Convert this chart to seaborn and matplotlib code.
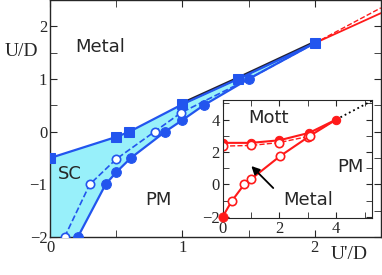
import numpy as np
import pandas as pd
import seaborn as sns
import matplotlib.pyplot as plt
from matplotlib.ticker import MultipleLocator

# main panel: SC boundaries (blue)
sq_x = [0.0, 0.5, 0.6, 1.0, 1.42, 2.0]
sq_y = [-0.5, -0.1, 0.0, 0.52, 1.0, 1.68]
fc_x = [0.21, 0.42, 0.5, 0.61, 0.87, 1.0, 1.16, 1.5, 2.0]
fc_y = [-2.0, -1.0, -0.77, -0.5, 0.0, 0.22, 0.5, 1.0, 1.68]
oc_x = [0.11, 0.30, 0.5, 0.79, 0.99, 1.5, 2.0]
oc_y = [-2.0, -1.0, -0.52, 0.0, 0.36, 1.0, 1.68]
# Mott line continued (red)
red_x = [2.0, 2.5]
red_solid = [1.68, 2.25]
red_dash = [1.68, 2.35]

# inset: Mott / Metal / PM
up_x = [0.0, 1.0, 2.0, 3.05, 4.0]
up_y = [2.56, 2.56, 2.72, 3.18, 4.0]
upo_x = [0.0, 1.0, 2.0, 3.0, 4.0]
upo_y = [2.36, 2.40, 2.58, 2.95, 4.0]
lo_x = [0.0, 0.32, 0.76, 0.99, 2.02, 3.08, 4.0]
lo_y = [-2.0, -1.03, 0.0, 0.31, 1.74, 3.0, 4.0]
dot_x = [4.0, 5.25]
dot_y = [4.0, 5.15]

blue = '#2255ee'
red = '#ff1a1a'
cyan = '#98f0fa'

sns.set_style('ticks')
plt.rcParams['font.family'] = ['DejaVu Sans']
serif = 'Liberation Serif'

fig = plt.figure(figsize=(3.82, 2.75), dpi=100)
ax = fig.add_axes([0.131, 0.138, 0.866, 0.862])

ax.fill(np.r_[0, sq_x, fc_x[::-1]], np.r_[-2, sq_y, fc_y[::-1]], color=cyan, lw=0, zorder=1)
sns.lineplot(x=sq_x[3:], y=np.array(sq_y[3:]) + 0.02, sort=False, color='#222233', lw=2.0,
             ax=ax, zorder=2)
sns.lineplot(x=sq_x, y=sq_y, sort=False, color=blue, lw=1.6, marker='s', markersize=7,
             markeredgecolor=blue, ax=ax, zorder=3)
sns.lineplot(x=fc_x, y=fc_y, sort=False, color=blue, lw=1.6, marker='o', markersize=7,
             markeredgecolor=blue, markevery=list(range(len(fc_x) - 1)), ax=ax, zorder=3)
sns.lineplot(x=oc_x, y=oc_y, sort=False, color=blue, lw=1.2, ls='--', marker='o', markersize=6,
             markerfacecolor='white', markeredgecolor=blue, markeredgewidth=1.2,
             markevery=list(range(5)), ax=ax, zorder=3)
sns.lineplot(x=red_x, y=red_solid, sort=False, color=red, lw=1.3, ax=ax, zorder=2)
sns.lineplot(x=red_x, y=red_dash, sort=False, color=red, lw=1.0, ls='--', ax=ax, zorder=2)

ax.set_xlim(0, 2.5)
ax.set_ylim(-2, 2.5)
ax.xaxis.set_major_locator(MultipleLocator(1))
ax.xaxis.set_minor_locator(MultipleLocator(0.5))
ax.yaxis.set_major_locator(MultipleLocator(1))
ax.yaxis.set_minor_locator(MultipleLocator(0.5))
ax.tick_params(which='both', direction='in', top=True, right=True, labelsize=12, pad=2)
ax.tick_params(which='major', length=5)
ax.tick_params(which='minor', length=5)
for lab in ax.get_xticklabels() + ax.get_yticklabels():
    lab.set_family(serif)
for s in ax.spines.values():
    s.set_linewidth(1.0)

ax.text(-0.215, 1.53, 'U/D', fontsize=14, family=serif, ha='center', va='center')
ax.text(2.26, -2.33, "U'/D", fontsize=14, family=serif, ha='center', va='center', zorder=5)
ax.text(0.38, 1.6, 'Metal', fontsize=13, ha='center', va='center')
ax.text(0.15, -0.8, 'SC', fontsize=13, ha='center', va='center')
ax.text(0.82, -1.3, 'PM', fontsize=13, ha='center', va='center')

ins = fig.add_axes([0.583, 0.206, 0.390, 0.430])
ins.set_facecolor('white')
sns.lineplot(x=dot_x, y=dot_y, sort=False, color='black', lw=1.3, ls=':', ax=ins)
sns.lineplot(x=up_x, y=up_y, sort=False, color=red, lw=1.5, marker='o', markersize=6,
             markeredgecolor=red, ax=ins)
sns.lineplot(x=upo_x, y=upo_y, sort=False, color=red, lw=1.0, ls='--', marker='o', markersize=6,
             markerfacecolor='white', markeredgecolor=red, markeredgewidth=1.2,
             markevery=list(range(4)), ax=ins)
sns.lineplot(x=lo_x, y=lo_y, sort=False, color=red, lw=1.5, marker='o', markersize=6,
             markerfacecolor='white', markeredgecolor=red, markeredgewidth=1.2,
             markevery=list(range(1, len(lo_x) - 1)), ax=ins)
sns.scatterplot(x=[lo_x[0]], y=[lo_y[0]], color=red, s=45, edgecolor=red, ax=ins, zorder=5,
                clip_on=False)
ins.annotate('', xy=(0.94, 1.25), xytext=(1.85, -0.35),
             arrowprops=dict(arrowstyle='-|>', color='black', lw=1.3, mutation_scale=12))

ins.set_xlim(0, 5.25)
ins.set_ylim(-2.1, 5.2)
ins.xaxis.set_major_locator(MultipleLocator(2))
ins.xaxis.set_minor_locator(MultipleLocator(1))
ins.yaxis.set_major_locator(MultipleLocator(2))
ins.yaxis.set_minor_locator(MultipleLocator(1))
ins.tick_params(which='both', direction='in', top=True, right=True, labelsize=12, pad=2, length=4)
for lab in ins.get_xticklabels() + ins.get_yticklabels():
    lab.set_family(serif)
ins.text(1.6, 4.1, 'Mott', fontsize=13, ha='center', va='center')
ins.text(4.5, 1.1, 'PM', fontsize=13, ha='center', va='center')
ins.text(3.0, -0.95, 'Metal', fontsize=13, ha='center', va='center')

fig.savefig('out.png', dpi=100)
